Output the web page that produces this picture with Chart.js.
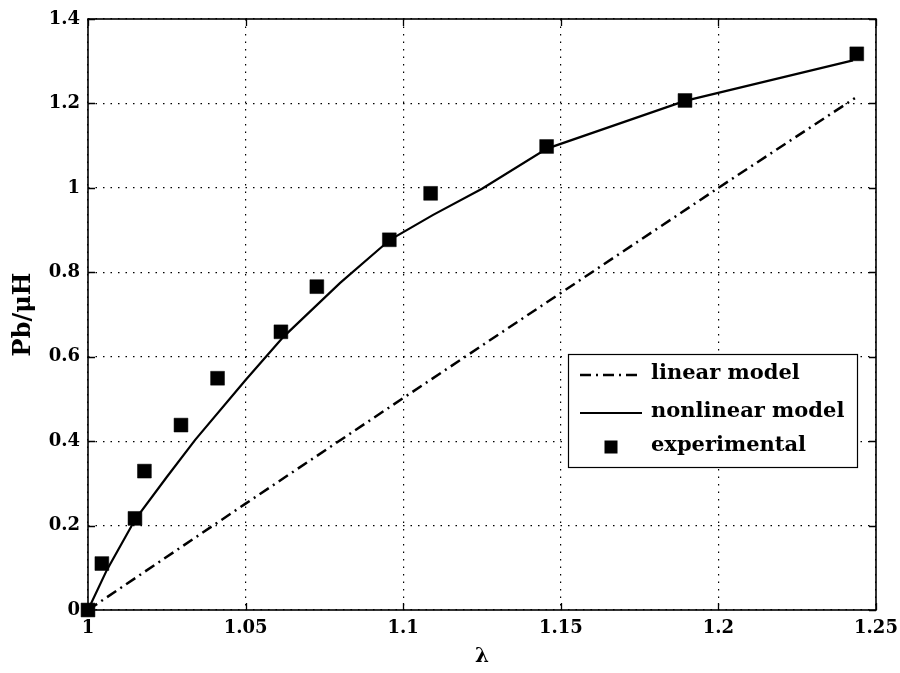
<!DOCTYPE html>
<html><head><meta charset="utf-8">
<script src="https://cdn.jsdelivr.net/npm/chart.js@4/dist/chart.umd.min.js"></script>
<style>html,body{margin:0;padding:0;background:#fff;}#wrap{width:900px;height:673px;}</style>
</head><body><div id="wrap"><canvas id="c" width="900" height="673"></canvas></div>
<script>
// ---- data ----
const xTickValues = [1, 1.05, 1.1, 1.15, 1.2, 1.25];
const xTickLabels = ['1', '1.05', '1.1', '1.15', '1.2', '1.25'];
const yTickValues = [0, 0.2, 0.4, 0.6, 0.8, 1, 1.2, 1.4];
const yTickLabels = ['0', '0.2', '0.4', '0.6', '0.8', '1', '1.2', '1.4'];

const seriesNames = ['linear model', 'nonlinear model', 'experimental'];

const xLinear = [1, 1.05, 1.1, 1.15, 1.2, 1.2433];
const yLinear = [0, 0.252, 0.502, 0.751, 1.0, 1.2125];

const xNonlinear = [1, 1.006, 1.015, 1.025, 1.034, 1.05, 1.062, 1.08, 1.0958, 1.1095, 1.125, 1.1456, 1.1894, 1.2427];
const yNonlinear = [0, 0.095, 0.215, 0.315, 0.403, 0.545, 0.647, 0.775, 0.877, 0.936, 0.998, 1.093, 1.206, 1.302];

const xExperimental = [1, 1.0044, 1.0149, 1.0179, 1.0295, 1.0411, 1.0612, 1.0726, 1.0956, 1.1087, 1.1455, 1.1894, 1.2439];
const yExperimental = [0, 0.110, 0.217, 0.329, 0.438, 0.549, 0.659, 0.766, 0.877, 0.987, 1.098, 1.207, 1.3175];

const toPts = (xs, ys) => xs.map((x, i) => ({x: x, y: ys[i]}));

const FONT = 'DejaVu Serif';

const framePlugin = {
  id: 'frame',
  afterDraw(chart) {
    const {ctx, chartArea: a} = chart;
    const xs = chart.scales.x, ys = chart.scales.y;
    ctx.save();
    ctx.setLineDash([]);
    ctx.strokeStyle = '#000';
    // inward ticks
    const tl = 7;
    ctx.lineWidth = 1.3;
    ctx.beginPath();
    xs.ticks.forEach(t => {
      const px = Math.round(xs.getPixelForValue(t.value)) + 0.5;
      ctx.moveTo(px, a.bottom); ctx.lineTo(px, a.bottom - tl);
      ctx.moveTo(px, a.top); ctx.lineTo(px, a.top + tl);
    });
    ys.ticks.forEach(t => {
      const py = Math.round(ys.getPixelForValue(t.value)) + 0.5;
      ctx.moveTo(a.left, py); ctx.lineTo(a.left + tl, py);
      ctx.moveTo(a.right, py); ctx.lineTo(a.right - tl, py);
    });
    ctx.stroke();
    // box
    ctx.lineWidth = 1.6;
    ctx.strokeRect(a.left, a.top, a.right - a.left, a.bottom - a.top);

    // legend
    const bw = 289, bh = 113;
    const bx = a.right - 308, by = a.bottom - 256;
    ctx.fillStyle = '#fff';
    ctx.fillRect(bx, by, bw, bh);
    ctx.lineWidth = 1.2;
    ctx.strokeStyle = '#000';
    ctx.strokeRect(bx + 0.5, by + 0.5, bw, bh);
    const rows = [21, 59, 93];
    ctx.font = 'bold 21px "' + FONT + '"';
    ctx.textBaseline = 'middle';
    ctx.textAlign = 'left';
    chart.data.datasets.forEach((ds, i) => {
      const cy = by + rows[i];
      if (ds.showLine) {
        ctx.save();
        ctx.strokeStyle = ds.borderColor;
        ctx.lineWidth = ds.borderWidth;
        ctx.setLineDash(ds.borderDash || []);
        ctx.beginPath();
        ctx.moveTo(bx + 12, cy); ctx.lineTo(bx + 74, cy);
        ctx.stroke();
        ctx.restore();
      } else {
        ctx.fillStyle = '#000';
        ctx.fillRect(bx + 43 - 6.5, cy - 6.5, 13, 13);
      }
      ctx.fillStyle = '#000';
      ctx.fillText(ds.label, bx + 83, cy - 1);
    });
    ctx.restore();
  }
};

new Chart(document.getElementById('c'), {
  type: 'scatter',
  data: {
    datasets: [
      {
        label: seriesNames[0],
        data: toPts(xLinear, yLinear),
        showLine: true,
        borderColor: '#000',
        borderWidth: 2.5,
        borderDash: [11, 5, 2, 5],
        pointRadius: 0,
        tension: 0,
        clip: false
      },
      {
        label: seriesNames[1],
        data: toPts(xNonlinear, yNonlinear),
        showLine: true,
        borderColor: '#000',
        borderWidth: 2.2,
        pointRadius: 0,
        tension: 0,
        clip: false
      },
      {
        label: seriesNames[2],
        data: toPts(xExperimental, yExperimental),
        showLine: false,
        pointStyle: 'rect',
        pointRadius: 9.8,
        pointBorderWidth: 0.5,
        backgroundColor: '#000',
        borderColor: '#000',
        clip: false
      }
    ]
  },
  options: {
    responsive: false,
    animation: false,
    devicePixelRatio: 1,
    layout: {padding: {left: 0, right: 24, top: 19, bottom: 0}},
    plugins: {legend: {display: false}, tooltip: {enabled: false}},
    scales: {
      x: {
        type: 'linear',
        min: 1, max: 1.25,
        afterBuildTicks: s => { s.ticks = xTickValues.map(v => ({value: v})); },
        afterFit: s => { s.height = 63; s.paddingLeft = 0; s.paddingRight = 0; },
        grid: {color: '#000', lineWidth: 1.2, drawTicks: false},
        border: {display: false, dash: [1.5, 6]},
        ticks: {
          autoSkip: false, maxRotation: 0, padding: 8, color: '#000',
          font: {family: FONT, weight: 'bold', size: 18},
          callback: v => xTickLabels[xTickValues.indexOf(v)]
        },
        title: {display: true, text: 'λ', color: '#000',
          font: {family: FONT, weight: 'bold', size: 20}, padding: {top: 0, bottom: 4}}
      },
      y: {
        type: 'linear',
        min: 0, max: 1.4,
        afterBuildTicks: s => { s.ticks = yTickValues.map(v => ({value: v})); },
        afterFit: s => { s.width = 88; s.paddingTop = 0; s.paddingBottom = 0; },
        grid: {color: '#000', lineWidth: 1.2, drawTicks: false},
        border: {display: false, dash: [1.5, 6]},
        ticks: {
          autoSkip: false, padding: 8, color: '#000',
          font: {family: FONT, weight: 'bold', size: 18},
          callback: v => yTickLabels[yTickValues.indexOf(v)]
        },
        title: {display: true, text: 'Pb/μH', color: '#000',
          font: {family: FONT, weight: 'bold', size: 24}, padding: {top: 9, bottom: 0}}
      }
    }
  },
  plugins: [framePlugin]
});
</script></body></html>
